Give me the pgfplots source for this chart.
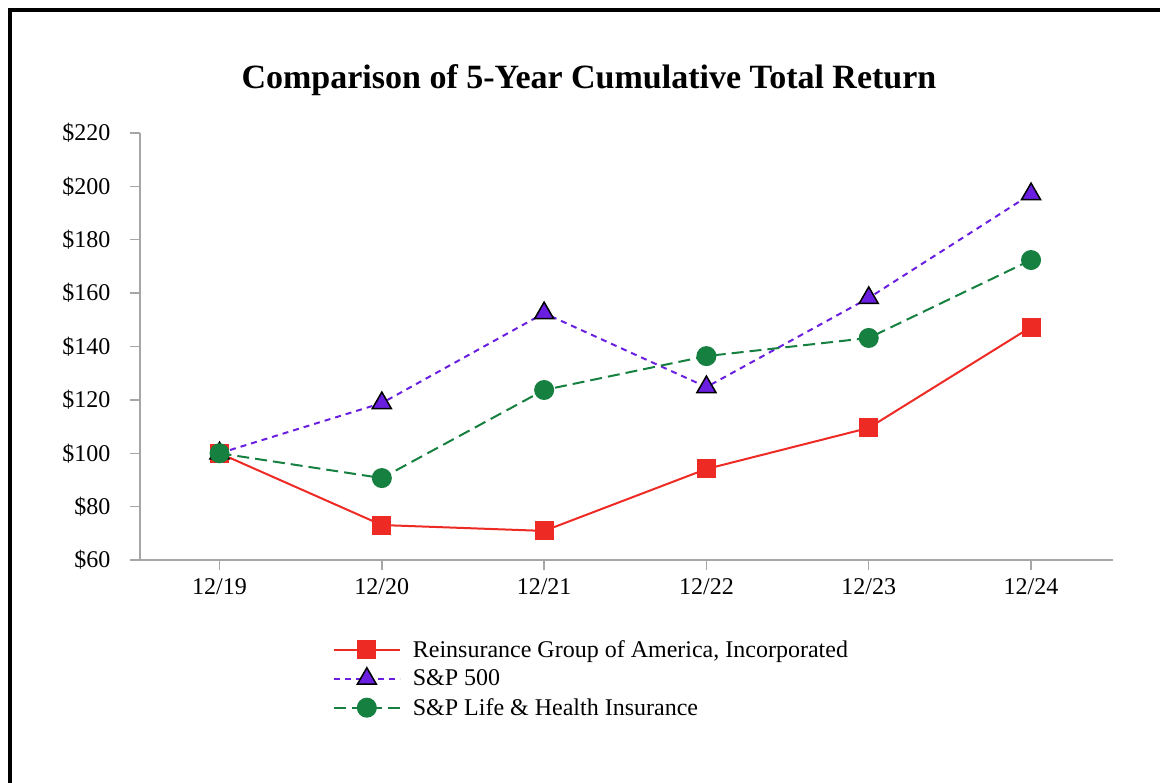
\documentclass[border=0pt]{standalone}
\usepackage{pgfplots}
\pgfplotsset{compat=1.18}
\usepackage{fontspec}
\setmainfont{Liberation Serif}
\definecolor{rgared}{HTML}{EE2A24}
\definecolor{sppurple}{HTML}{6A1FE0}
\definecolor{lhgreen}{HTML}{168040}
\definecolor{axgray}{HTML}{A6A6A6}
\pgfplotsset{
  rgastyle/.style={draw=rgared, line width=2pt, solid, mark=square*, mark size=9pt,
    mark options={solid, fill=rgared, draw=rgared, line width=1pt}},
  spstyle/.style={draw=sppurple, line width=2pt, dash pattern=on 6pt off 5pt, mark=triangle*, mark size=11pt,
    mark options={solid, fill=sppurple, draw=black, line width=1.5pt}},
  lhstyle/.style={draw=lhgreen, line width=2pt, dash pattern=on 12pt off 6pt, mark=*, mark size=9pt,
    mark options={solid, fill=lhgreen, draw=lhgreen}},
}
\begin{document}
\begin{tikzpicture}[x=1pt,y=1pt]
\path[use as bounding box] (0,0) rectangle (1160,-783);
\draw[line width=4pt,black] (10,-785) -- (10,-10) -- (1162,-10);
\node[font=\fontsize{34}{40}\selectfont\bfseries] at (589,-80) {Comparison of 5-Year Cumulative Total Return};
\begin{axis}[
  at={(140pt,-560pt)}, anchor=south west,
  width=973pt, height=427pt, scale only axis,
  xmin=-0.49, xmax=5.505, ymin=60, ymax=220,
  axis x line*=bottom, axis y line*=left,
  axis line style={axgray, line width=1.5pt, -},
  xtick={0,...,5}, xticklabels={12/19,12/20,12/21,12/22,12/23,12/24},
  ytick={60,80,...,220},
  yticklabels={\$60,\$80,\$100,\$120,\$140,\$160,\$180,\$200,\$220},
  tick style={axgray, line width=1.5pt},
  major tick length=10pt,
  tick align=outside,
  ticklabel style={font=\fontsize{24}{28}\selectfont, text=black},
  yticklabel style={xshift=-16pt},
  xticklabel style={yshift=-5pt},
  legend style={at={(0.198,-0.183)}, anchor=north west, draw=none, fill=none,
    font=\fontsize{24}{28}\selectfont, row sep=7pt, inner sep=0pt,
    /tikz/every odd column/.append style={column sep=10pt}},
  legend cell align=left,
  legend image code/.code={%
    \draw[#1, mark=none] (0pt,0pt) -- (66pt,0pt);
    \draw[#1, only marks] plot coordinates {(33pt,0pt)};},
  clip=false,
]
\addlegendimage{rgastyle}
\addlegendentry{Reinsurance Group of America, Incorporated}
\addlegendimage{spstyle}
\addlegendentry{S\&P 500}
\addlegendimage{lhstyle}
\addlegendentry{S\&P Life \& Health Insurance}
\addplot[rgastyle, forget plot]
  coordinates {(0,100) (1,73.1) (2,70.9) (3,94.1) (4,109.5) (5,147.3)};
\addplot[spstyle, forget plot]
  coordinates {(0,100) (1,118.8) (2,152.5) (3,124.8) (4,158.2) (5,197.1)};
\addplot[lhstyle, forget plot]
  coordinates {(0,100) (1,90.7) (2,123.7) (3,136.4) (4,143.2) (5,172.4)};
\end{axis}
\end{tikzpicture}
\end{document}
